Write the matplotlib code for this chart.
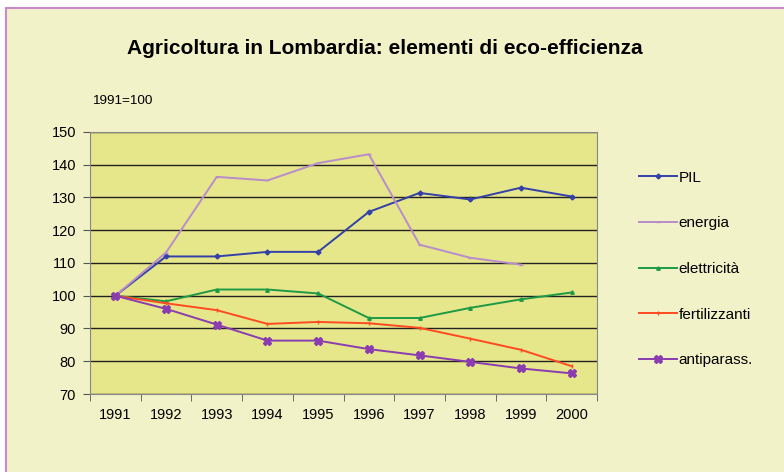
import matplotlib.pyplot as plt
import numpy as np
from matplotlib.patches import Rectangle

plt.rcParams["font.family"] = ["Liberation Sans", "DejaVu Sans"]

# dati (1991=100)
anni = ["1991", "1992", "1993", "1994", "1995", "1996", "1997", "1998", "1999", "2000"]
pil = [100, 112, 112, 113.4, 113.4, 125.6, 131.4, 129.4, 133, 130.3]
energia = [100, 113.2, 136.3, 135.2, 140.5, 143.2, 115.6, 111.6, 109.5, np.nan]
elettricita = [100, 98.3, 101.9, 101.9, 100.7, 93.2, 93.2, 96.3, 98.9, 101]
fertilizzanti = [100, 97.7, 95.6, 91.4, 92, 91.6, 90.2, 86.9, 83.5, 78.5]
antiparass = [100, 96, 91.2, 86.3, 86.3, 83.7, 81.8, 79.8, 77.8, 76.3]

fig = plt.figure(figsize=(7.84, 4.72), dpi=100)
fig.patch.set_facecolor("white")

# riquadro di sfondo con bordo rosa
bg = fig.add_axes([0, 0, 1, 1])
bg.set_xlim(0, 784)
bg.set_ylim(472, 0)
bg.axis("off")
bg.add_patch(Rectangle((6, 8), 800, 480, facecolor="#F2F2C9",
                       edgecolor="#CC88CC", linewidth=1.5))

ax = fig.add_axes([90 / 784, 1 - 394 / 472, 507 / 784, 262 / 472])
ax.set_facecolor("#E6E68A")
x = np.arange(len(anni))

ax.plot(x, pil, color="#3340A8", lw=1.4, marker="D", ms=2.5, label="PIL")
ax.plot(x, energia, color="#B98CCB", lw=1.4, marker="_", ms=3, label="energia")
ax.plot(x, elettricita, color="#1E9A46", lw=1.4, marker="^", ms=2.5, label="elettricità")
ax.plot(x, fertilizzanti, color="#FF4A22", lw=1.4, marker="|", ms=3, label="fertilizzanti")
ax.plot(x, antiparass, color="#8A3CB0", lw=1.4, marker="X", ms=5.5, label="antiparass.")

ax.set_xlim(-0.5, 9.5)
ax.set_ylim(70, 150)
ax.set_yticks(np.arange(70, 151, 10))
ax.set_xticks(x)
ax.set_xticklabels(anni)
ax.set_xticks(np.arange(-0.5, 10, 1), minor=True)
ax.tick_params(axis="x", which="major", length=0, labelsize=10.5, pad=10)
ax.tick_params(axis="x", which="minor", length=5, color="#555555")
ax.tick_params(axis="y", length=5, labelsize=10.5, color="#555555", pad=5)
ax.grid(axis="y", color="#222222", lw=1)
ax.set_axisbelow(True)
for s in ax.spines.values():
    s.set_color("#888888")

fig.text(385 / 784, 1 - 48 / 472, "Agricoltura in Lombardia: elementi di eco-efficienza",
         ha="center", va="center", fontsize=15, fontweight="bold")
fig.text(92 / 784, 1 - 101 / 472, "1991=100", ha="left", va="center", fontsize=9.7)

fig.legend(loc="upper left", bbox_to_anchor=(625 / 784, 1 - 157 / 472),
           frameon=False, fontsize=11, labelspacing=2.07, handlelength=2.5,
           handletextpad=0.1)

plt.savefig("out.png", dpi=100)
